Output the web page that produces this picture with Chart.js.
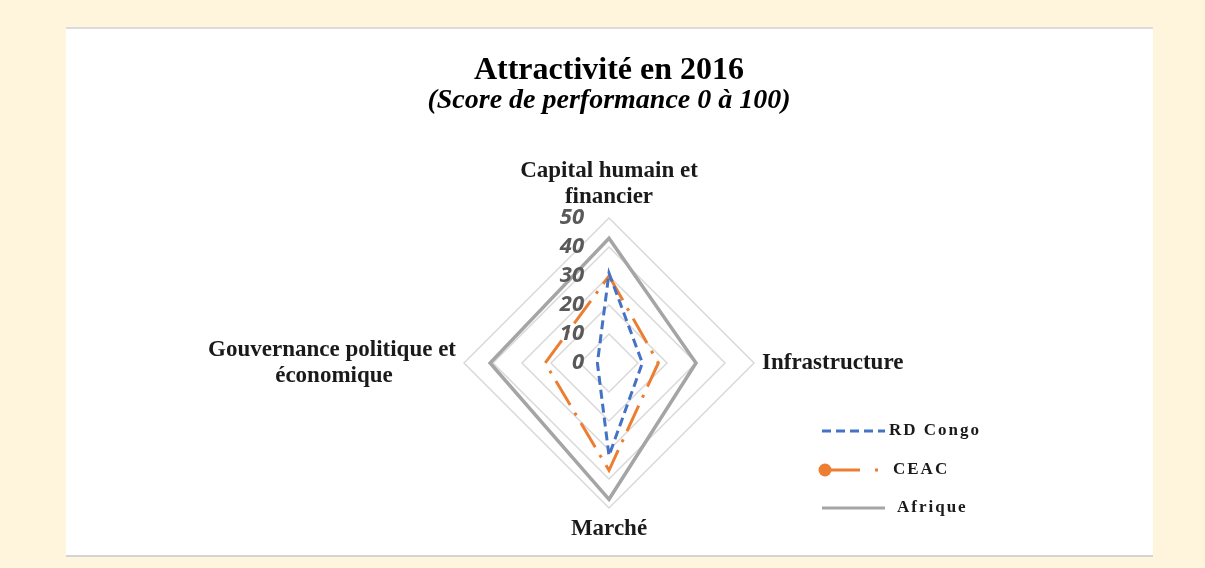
<!DOCTYPE html>
<html lang="fr">
<head>
<meta charset="utf-8">
<title>Attractivité en 2016</title>
<script src="https://cdn.jsdelivr.net/npm/chart.js@4.4.0/dist/chart.umd.min.js"></script>
<style>
  html, body { margin: 0; padding: 0; background: #fef5dc; }
  #panel {
    position: absolute; left: 66px; top: 27px; width: 1087px; height: 526px;
    background: #ffffff; border-top: 2px solid #dcdcdc; border-bottom: 2px solid #d4d4d4;
  }
  #radar { position: absolute; left: 0; top: 0; }
</style>
</head>
<body>
<div id="panel"></div>
<canvas id="radar" width="1205" height="568"></canvas>
<script>
// axes of the radar, clockwise from the top
// (trailing no-break spaces keep the second left line roughly centred)
const categories = [
  ["Capital humain et", "financier"],
  "Infrastructure",
  "Marché",
  ["Gouvernance politique et", "économique" + "\u00a0".repeat(11)],
];

// scores (0 to 100 scale, shown up to 50)
const rdCongo = [31, 11.5, 32, 4];
const ceac = [30, 17, 37, 22];
const afrique = [43, 30, 47, 41];

const seriesNames = ["RD Congo", "CEAC", "Afrique"];
const tickLabels = [0, 10, 20, 30, 40, 50];

document.addEventListener("DOMContentLoaded", function () {
  const serif = "'Liberation Serif', 'Times New Roman', serif";

  // tick numbers sit to the left of the vertical axis, not on it
  const tickPlugin = {
    id: "sideTicks",
    afterDatasetsDraw(chart) {
      const r = chart.scales.r;
      const ctx = chart.ctx;
      ctx.save();
      ctx.font = "italic bold 22px 'Open Sans', sans-serif";
      ctx.fillStyle = "#595959";
      ctx.textAlign = "right";
      ctx.textBaseline = "middle";
      tickLabels.forEach(function (v) {
        const d = r.getDistanceFromCenterForValue(v);
        ctx.fillText(String(v), r.xCenter - 25, r.yCenter - d);
      });
      ctx.restore();
    },
  };

  // legend drawn by hand to get the Excel-like layout on the right
  const legendPlugin = {
    id: "sideLegend",
    afterDraw(chart) {
      const ctx = chart.ctx;
      const rows = [431, 470, 508];
      ctx.save();
      chart.data.datasets.forEach(function (ds, i) {
        const y = rows[i];
        ctx.strokeStyle = ds.borderColor;
        ctx.lineWidth = 3;
        ctx.setLineDash(ds.borderDash || []);
        ctx.beginPath();
        if (i === 1) {
          ctx.setLineDash([]);
          ctx.moveTo(825, y);
          ctx.lineTo(860, y);
          ctx.stroke();
          ctx.fillStyle = ds.borderColor;
          ctx.beginPath();
          ctx.arc(825, y, 6.5, 0, Math.PI * 2);
          ctx.fill();
          ctx.fillRect(875, y - 1.5, 3, 3);
        } else {
          ctx.moveTo(822, y);
          ctx.lineTo(885, y);
          ctx.stroke();
        }
        ctx.setLineDash([]);
        ctx.fillStyle = "#1a1a1a";
        ctx.font = "bold 17px " + serif;
        ctx.letterSpacing = "2px";
        ctx.textAlign = "left";
        ctx.textBaseline = "middle";
        ctx.fillText(ds.label, [889, 893, 897][i], y);
      });
      ctx.restore();
    },
  };

  new Chart(document.getElementById("radar"), {
    type: "radar",
    data: {
      labels: categories,
      datasets: [
        {
          label: seriesNames[0],
          data: rdCongo,
          borderColor: "#4472c4",
          borderWidth: 3,
          borderDash: [9, 5],
          fill: false,
          pointRadius: 0,
        },
        {
          label: seriesNames[1],
          data: ceac,
          borderColor: "#ed7d31",
          borderWidth: 3,
          borderDash: [28, 9, 3, 9],
          fill: false,
          pointRadius: 0,
        },
        {
          label: seriesNames[2],
          data: afrique,
          borderColor: "#a5a5a5",
          borderWidth: 3.5,
          fill: false,
          pointRadius: 0,
        },
      ],
    },
    options: {
      responsive: false,
      animation: false,
      layout: { padding: { left: 13, right: 0, top: 58.2, bottom: 13 } },
      plugins: {
        legend: { display: false },
        tooltip: { enabled: false },
        title: {
          display: true,
          text: "Attractivité en 2016",
          color: "#000",
          font: { family: serif, size: 32, weight: "bold", lineHeight: 0.8 },
          padding: { top: 0, bottom: 0 },
        },
        subtitle: {
          display: true,
          text: "(Score de performance 0 à 100)",
          color: "#000",
          font: { family: serif, size: 28, weight: "bold", style: "italic", lineHeight: 0.8 },
          padding: { top: 6, bottom: 32.8 },
        },
      },
      scales: {
        r: {
          min: 0,
          max: 50,
          ticks: { stepSize: 10, display: false },
          grid: { color: "#d9d9d9", lineWidth: 1.5 },
          angleLines: { display: false },
          pointLabels: {
            color: "#1a1a1a",
            padding: 8,
            font: { family: serif, size: 23, weight: "bold", lineHeight: "26px" },
          },
        },
      },
    },
    plugins: [tickPlugin, legendPlugin],
  });
});
</script>
</body>
</html>
